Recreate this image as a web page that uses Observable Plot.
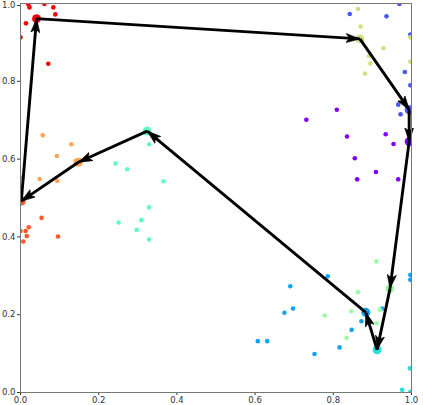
<!DOCTYPE html>
<html>
<head>
<meta charset="utf-8">
<script src="https://cdn.jsdelivr.net/npm/d3@7"></script>
<script src="https://cdn.jsdelivr.net/npm/@observablehq/plot@0.6"></script>
<style>
  html, body { margin: 0; padding: 0; background: #fff; }
</style>
</head>
<body>
<div id="chart"></div>
<script>
// Cluster colours (matplotlib "rainbow" sampled at k/9)
const clusterColors = ["#8000ff", "#4757fb", "#0ea4f0", "#2adddd", "#62fbc4", "#9cfba4", "#d4dd80", "#ffa457", "#ff572c", "#ff0000"];

// Scatter points: x, y and cluster label
const pointX = [
  0.731, 0.809, 0.835, 0.934, 0.954, 0.855, 0.909, 0.861, 0.966,
  0.842, 0.936, 0.969, 0.997, 0.983, 0.997, 0.966, 0.972,
  0.786, 0.690, 0.675, 0.697, 0.607, 0.631, 0.752, 0.816, 0.847, 0.872, 0.925, 0.997, 0.997,
  0.996, 0.976, 0.997,
  0.329, 0.243, 0.273, 0.366, 0.329, 0.309, 0.251, 0.297, 0.329,
  0.910, 0.863, 0.846, 0.778, 0.911, 0.919, 0.834,
  0.863, 0.870, 0.928, 0.891, 0.895, 0.881, 0.997, 0.997,
  0.057, 0.130, 0.093, 0.006, 0.049, 0.094, 0.141,
  0.054, 0.021, 0.000, 0.013, 0.016, 0.007, 0.096,
  0.020, 0.023, 0.061, 0.084, 0.089, 0.014, 0.000, 0.071
];
const pointY = [
  0.701, 0.727, 0.658, 0.664, 0.639, 0.602, 0.567, 0.548, 0.548,
  0.973, 0.967, 0.999, 0.920, 0.824, 0.790, 0.740, 0.715,
  0.299, 0.273, 0.205, 0.216, 0.132, 0.132, 0.099, 0.116, 0.161, 0.183, 0.216, 0.302, 0.290,
  0.062, 0.007, 0.001,
  0.638, 0.589, 0.574, 0.543, 0.476, 0.443, 0.437, 0.418, 0.393,
  0.337, 0.258, 0.209, 0.198, 0.178, 0.213, 0.140,
  0.986, 0.941, 0.885, 0.865, 0.846, 0.820, 0.913, 0.850,
  0.661, 0.638, 0.608, 0.553, 0.549, 0.544, 0.595,
  0.449, 0.425, 0.415, 0.415, 0.402, 0.388, 0.401,
  0.998, 0.990, 0.999, 0.990, 0.972, 0.949, 0.913, 0.845
];
const pointCluster = [
  0, 0, 0, 0, 0, 0, 0, 0, 0,
  1, 1, 1, 1, 1, 1, 1, 1,
  2, 2, 2, 2, 2, 2, 2, 2, 2, 2, 2, 2, 2,
  3, 3, 3,
  4, 4, 4, 4, 4, 4, 4, 4, 4,
  5, 5, 5, 5, 5, 5, 5,
  6, 6, 6, 6, 6, 6, 6, 6,
  7, 7, 7, 7, 7, 7, 7,
  8, 8, 8, 8, 8, 8, 8,
  9, 9, 9, 9, 9, 9, 9, 9
];

// Cluster centres
const centroidX = [0.994, 0.994, 0.883, 0.912, 0.324, 0.945, 0.868, 0.148, 0.002, 0.041];
const centroidY = [0.645, 0.727, 0.206, 0.110, 0.672, 0.267, 0.909, 0.592, 0.492, 0.961];

// Tour through the cluster centres
const tourOrder = [9, 6, 1, 0, 5, 3, 2, 4, 7, 8, 9];

// Axis ticks
const xTicks = [0, 0.2, 0.4, 0.6, 0.8, 1.0];
const yTicks = [0, 0.2, 0.4, 0.6, 0.8, 1.0];

// Build tables
const points = pointX.map((x, i) => ({x, y: pointY[i], c: pointCluster[i]}));
const centroids = centroidX.map((x, i) => ({x, y: centroidY[i], c: i}));
const legs = tourOrder.slice(0, -1).map((a, i) => {
  const b = tourOrder[i + 1];
  return {x1: centroidX[a], y1: centroidY[a], x2: centroidX[b], y2: centroidY[b]};
});

// Filled dart arrowhead marker
function dartHead(color, context) {
  const ns = "http://www.w3.org/2000/svg";
  const doc = (context && context.document) || document;
  const m = doc.createElementNS(ns, "marker");
  m.setAttribute("viewBox", "-14 -5 15 10");
  m.setAttribute("markerWidth", "15");
  m.setAttribute("markerHeight", "10");
  m.setAttribute("markerUnits", "userSpaceOnUse");
  m.setAttribute("refX", "0");
  m.setAttribute("refY", "0");
  m.setAttribute("orient", "auto");
  const p = doc.createElementNS(ns, "path");
  p.setAttribute("d", "M-14,-4.6L0,0L-14,4.6L-10.5,0Z");
  p.setAttribute("fill", "#000");
  p.setAttribute("stroke", "#000");
  p.setAttribute("stroke-width", "0.6");
  p.setAttribute("stroke-linejoin", "miter");
  m.appendChild(p);
  return m;
}

const colorOf = d => clusterColors[d.c];
const fmt = d3.format(".1f");

const chart = Plot.plot({
  width: 423,
  height: 405,
  marginLeft: 20,
  marginRight: 12,
  marginTop: 3,
  marginBottom: 13,
  style: {fontSize: "8.5px", fontFamily: "DejaVu Sans, sans-serif", color: "#333", background: "#fff"},
  x: {domain: [0, 1], label: null},
  y: {domain: [0, 1], label: null},
  marks: [
    Plot.axisX(xTicks, {tickSize: 3, tickPadding: 1, tickFormat: fmt, label: null}),
    Plot.axisY(yTicks.slice(0, -1), {tickSize: 3, tickPadding: 2, tickFormat: fmt, label: null}),
    Plot.axisY(yTicks.slice(-1), {tickSize: 3, tickPadding: 2, tickFormat: fmt, label: null, dy: 2}),
    Plot.dot(points, {x: "x", y: "y", r: 2.3, fill: colorOf, stroke: "none", clip: true}),
    Plot.dot(centroids, {x: "x", y: "y", r: 4.5, fill: colorOf, stroke: "none", clip: true}),
    Plot.link(legs, {x1: "x1", y1: "y1", x2: "x2", y2: "y2", stroke: "#000", strokeWidth: 2.9, markerEnd: dartHead}),
    Plot.frame({stroke: "#777", strokeWidth: 1})
  ]
});

document.getElementById("chart").appendChild(chart);
</script>
</body>
</html>
